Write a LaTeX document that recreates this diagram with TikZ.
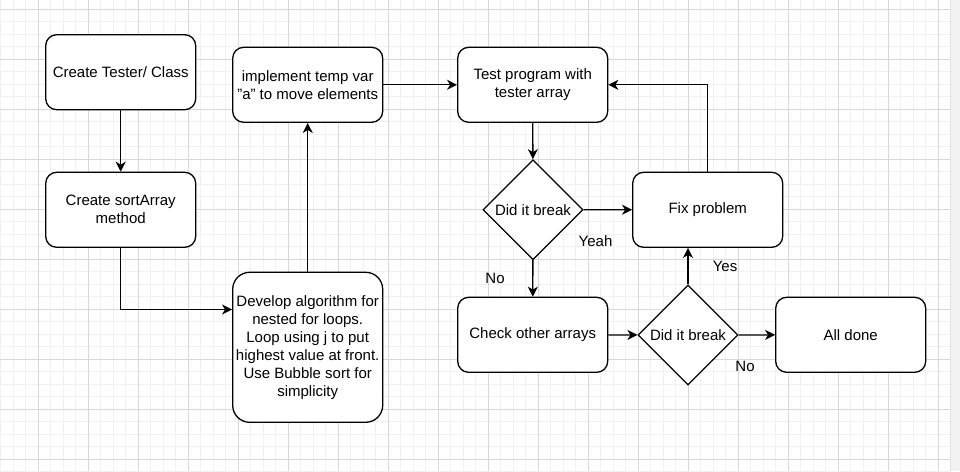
\documentclass[tikz,border=0pt]{standalone}
\usepackage{fontspec}
\setmainfont[Ligatures=NoCommon]{Liberation Sans}
\usetikzlibrary{shapes.geometric,arrows.meta,calc}
\definecolor{gridminor}{HTML}{F1F1F1}
\definecolor{gridmajor}{HTML}{D8D8D8}
\definecolor{stripcol}{HTML}{F2F2F2}
\definecolor{stripedge}{HTML}{E2E2E2}
\begin{document}
\begin{tikzpicture}[x=1pt,y=-1pt,
  txt/.style={font=\fontsize{15}{18}\selectfont, text=black},
  box/.style={txt, draw=black, line width=1.3pt, rounded corners=11pt, minimum width=150pt, minimum height=75pt, inner sep=0pt, align=center, fill=white},
  bigbox/.style={box, minimum height=150pt, rounded corners=17pt},
  decision/.style={txt, draw=black, line width=1.3pt, diamond, aspect=1, minimum width=100pt, minimum height=100pt, inner sep=0pt, fill=white},
  arr/.style={draw=black, line width=1.3pt, -{Stealth[length=10pt,width=10pt,inset=3pt]}},
  lbl/.style={txt, inner sep=0pt}
]
\useasboundingbox (0,0) rectangle (960,471);
% background grid
\fill[white] (0,0) rectangle (960,471);
\foreach \i in {0,...,75} { \draw[gridminor, line width=0.9pt] ({0.8+12.5*\i},0) -- ({0.8+12.5*\i},471); }
\foreach \j in {0,...,38} { \draw[gridminor, line width=0.9pt] (0,{-3.2+12.5*\j}) -- (950.7,{-3.2+12.5*\j}); }
\foreach \i in {0,...,18} { \draw[gridmajor, line width=0.9pt] ({38.3+50*\i},0) -- ({38.3+50*\i},471); }
\foreach \j in {0,...,9} { \draw[gridmajor, line width=0.9pt] (0,{9.3+50*\j}) -- (950.7,{9.3+50*\j}); }
\fill[stripcol] (950.7,0) rectangle (960,471);
\draw[stripedge, line width=1pt] (950.7,0) -- (950.7,471);

% nodes
\node[box] (create) at (120.7,72.2) {Create Tester/ Class};
\node[box] (sort) at (120.7,209.8) {Create sortArray\\method};
\node[bigbox] (develop) at (307.7,347.3) {Develop algorithm for\\nested for loops.\\Loop using j to put\\highest value at front.\\Use Bubble sort for\\simplicity};
\node[box] (impl) at (307.7,84.8) {implement temp var\\\symbol{34}a\symbol{34} to move elements};
\node[box] (test) at (532.7,84.8) {Test program with\\tester array};
\node[decision] (d1) at (533,209.7) {Did it break};
\node[box] (fix) at (707.7,209.8) {Fix problem};
\node[box] (check) at (532.7,334.8) {Check other arrays};
\node[decision] (d2) at (688,335) {Did it break};
\node[box] (done) at (850.7,334.8) {All done};

% connectors
\draw[arr] (create) -- (sort);
\coordinate (devin) at ($(develop.north west)!0.25!(develop.south west)$);
\draw[arr] (sort.south) |- (devin);
\draw[arr] (develop) -- (impl);
\draw[arr] (impl) -- (test);
\draw[arr] (test) -- (d1);
\draw[arr] (d1) -- (fix);
\draw[arr] (d1) -- (check);
\draw[arr] (check) -- (d2);
\draw[arr] (d2) -- (done);
\draw[arr] (d2.north) -- (d2.north |- fix.south);
\draw[arr] (fix.north) |- (test.east);

% labels
\node[lbl] (yeah) at (595.5,240.7) {Yeah};
\node[lbl] (no1) at (495,278.3) {No};
\node[lbl] (yes) at (725,266) {Yes};
\node[lbl] (no2) at (745,366) {No};
\end{tikzpicture}
\end{document}
